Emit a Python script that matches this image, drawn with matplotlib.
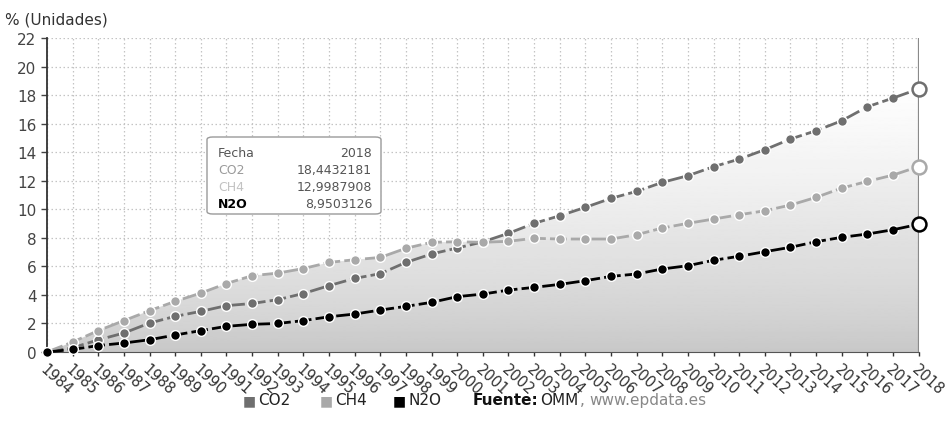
import numpy as np
import matplotlib.pyplot as plt
from matplotlib.patches import Polygon, FancyBboxPatch

years = list(range(1984, 2019))
co2 = [0, 0.3, 0.85, 1.33, 2.03, 2.5, 2.85, 3.25, 3.4, 3.67, 4.1, 4.65, 5.16, 5.49, 6.28, 6.87,
       7.29, 7.72, 8.32, 9.02, 9.55, 10.14, 10.77, 11.26, 11.89, 12.36, 12.99, 13.52, 14.18,
       14.93, 15.51, 16.21, 17.19, 17.8, 18.4432181]
ch4 = [0, 0.7, 1.5, 2.2, 2.9, 3.55, 4.13, 4.8, 5.35, 5.53, 5.85, 6.28, 6.47, 6.63, 7.27, 7.69,
       7.73, 7.69, 7.76, 7.97, 7.92, 7.92, 7.92, 8.22, 8.69, 9.02, 9.32, 9.62, 9.9, 10.3, 10.84,
       11.49, 11.96, 12.4, 12.9987908]
n2o = [0, 0.18, 0.45, 0.63, 0.86, 1.19, 1.5, 1.8, 1.94, 2.0, 2.2, 2.47, 2.66, 2.94, 3.2, 3.48,
       3.88, 4.06, 4.34, 4.53, 4.74, 5.0, 5.3, 5.47, 5.82, 6.05, 6.43, 6.71, 7.03, 7.34, 7.73,
       8.04, 8.27, 8.57, 8.9503126]

series = [("CO2", co2, "#6f6f6f"), ("CH4", ch4, "#a9a9a9"), ("N2O", n2o, "#000000")]

fig = plt.figure(figsize=(9.5, 4.35), dpi=100)
ax = fig.add_axes([0.0495, 0.1885, 0.9175, 0.7215])
ax.set_xlim(1984, 2018)
ax.set_ylim(0, 22)

# vertical gradient under the upper envelope
x = np.array(years, dtype=float)
top = np.maximum(np.array(co2), np.array(ch4))
grad = (0.80 + 0.20 * np.linspace(0, 1, 256) ** 0.7).reshape(-1, 1)
img = ax.imshow(grad, extent=[1984, 2018, 0, 19], origin="lower", cmap="gray",
                vmin=0, vmax=1, aspect="auto", zorder=1)
ax.set_ylim(0, 22)
clip = Polygon(np.column_stack([np.r_[x, x[::-1]], np.r_[top, np.zeros_like(top)]]),
               closed=True, transform=ax.transData, facecolor="none", edgecolor="none")
ax.add_patch(clip)
img.set_clip_path(clip)
for name, vals, col in series[1:]:
    ax.fill_between(years, vals, 0, color="#999999", alpha=0.04, lw=0, zorder=2)

ax.set_xticks(years)
ax.set_yticks(range(0, 23, 2))
ax.grid(True, color="#c4c4c4", ls=(0, (1.2, 2)), lw=0.9, zorder=0)
ax.set_axisbelow(True)
for s in ["top", "right"]:
    ax.spines[s].set_visible(False)
ax.spines["left"].set_color("#333333")
ax.spines["left"].set_linewidth(1.3)
ax.spines["bottom"].set_color("#555555")
ax.spines["bottom"].set_linestyle((0, (2, 1)))
ax.axvline(2018, color="#8a8a8a", lw=1.6, zorder=3)
ax.tick_params(axis="y", labelsize=11, colors="#444444", length=4, width=1)
ax.tick_params(axis="x", labelsize=10.5, colors="#333333", length=3, width=1)
for lab in ax.get_xticklabels():
    lab.set_rotation(-42)
    lab.set_ha("left")
    lab.set_va("top")
    lab.set_rotation_mode("anchor")

for name, vals, col in series:
    ax.plot(years[:-1], vals[:-1], color=col, lw=2, ls=(0, (6, 1.5)), marker="o", ms=7,
            mfc=col, mec="white", mew=1.0, zorder=5, clip_on=False)
    ax.plot(years[-2:], vals[-2:], color=col, lw=2, ls=(0, (6, 1.5)), zorder=5, clip_on=False)
    ax.plot(years[-1], vals[-1], marker="o", ms=10, mfc="white", mec=col, mew=1.8,
            zorder=6, clip_on=False)

fig.text(0.005, 0.955, "% (Unidades)", fontsize=11, color="#333333", va="center")

# tooltip
box = FancyBboxPatch((207 / 950, 1 - 215 / 435), 174 / 950, 77 / 435,
                     boxstyle="round,pad=0,rounding_size=0.006", transform=fig.transFigure,
                     facecolor="white", edgecolor="#9a9a9a", lw=1, zorder=10)
fig.patches.append(box)
rows = [("Fecha", "2018", "#555555", "normal"),
        ("CO2", "18,4432181", "#9a9a9a", "normal"),
        ("CH4", "12,9987908", "#c2c2c2", "normal"),
        ("N2O", "8,9503126", "#000000", "bold")]
for i, (k, v, c, w) in enumerate(rows):
    yy = 1 - (154 + i * 16.7) / 435
    fig.text(218 / 950, yy, k, fontsize=9, color=c, weight=w, va="center", zorder=11)
    fig.text(372 / 950, yy, v, fontsize=9, color="#555555", va="center", ha="right", zorder=11)

# legend row
ly = 1 - 401 / 435
for xp, (name, vals, col) in zip([243, 320, 393], series):
    fig.text(xp / 950, ly, "\u25a0", fontsize=10, color=col, va="center")
    fig.text((xp + 15) / 950, ly, name, fontsize=11, color="#222222", va="center")
fig.text(473 / 950, ly, "Fuente:", fontsize=11, weight="bold", color="#111111", va="center")
fig.text(540 / 950, ly, "OMM", fontsize=11, color="#222222", va="center")
fig.text(580 / 950, ly, ",", fontsize=11, color="#888888", va="center")
fig.text(589 / 950, ly, "www.epdata.es", fontsize=11, color="#888888", va="center")

fig.savefig("out.png", dpi=100)
